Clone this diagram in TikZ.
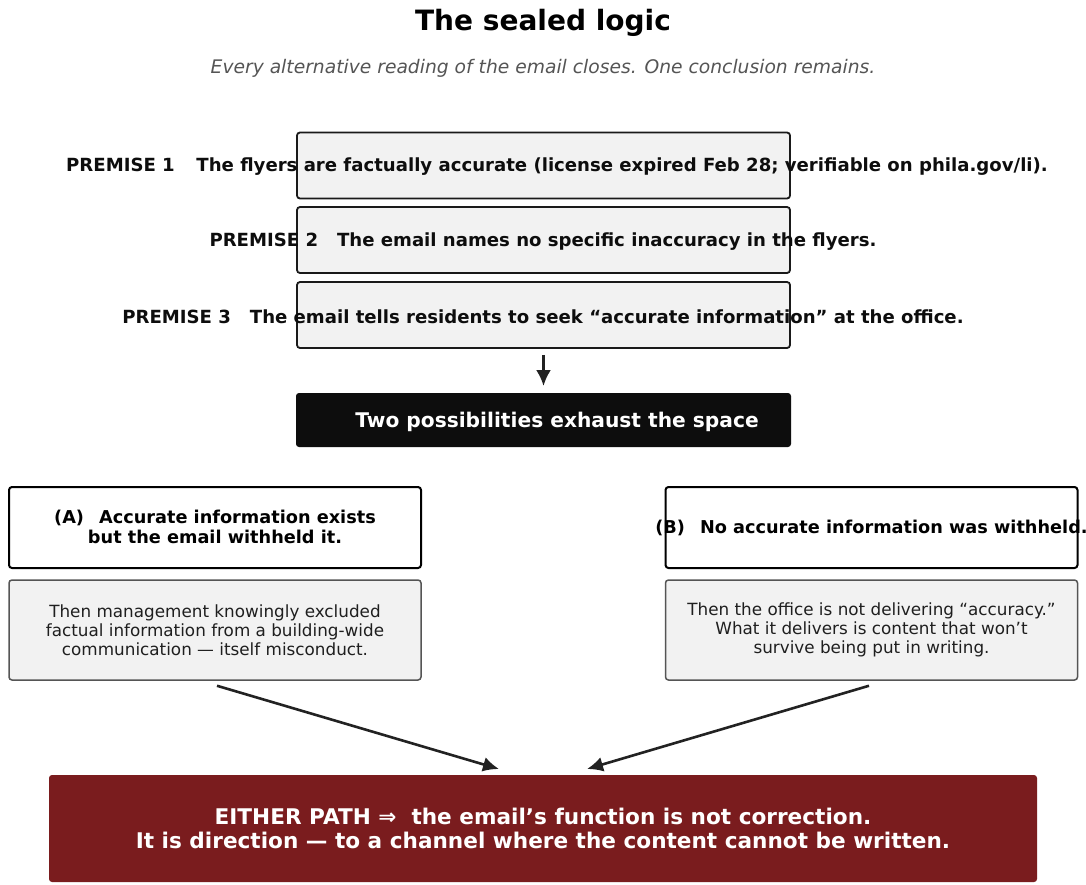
\documentclass[tikz,border=0pt]{standalone}
\usepackage{fontspec}
\setmainfont{DejaVu Sans}
\usetikzlibrary{arrows.meta}
\pgfdeclarelayer{background}
\pgfsetlayers{background,main}
\definecolor{boxfill}{HTML}{F2F2F2}
\definecolor{boxline}{HTML}{1A1A1A}
\definecolor{darkbox}{HTML}{0D0D0D}
\definecolor{redbox}{HTML}{7A1C1E}
\definecolor{subgray}{HTML}{555555}
\definecolor{subline}{HTML}{555555}
\definecolor{arrowc}{HTML}{222222}
\tikzset{
  premisebox/.style={draw=boxline, fill=boxfill, line width=1.8pt, rounded corners=3pt, minimum width=493pt, minimum height=66pt, inner sep=0pt},
  premisetext/.style={font=\bfseries\fontsize{18.1}{21}\selectfont, text=black!95, inner sep=0pt},
  darkstyle/.style={fill=darkbox, rounded corners=3pt, minimum width=495pt, minimum height=54pt, inner sep=0pt},
  casebox/.style={draw=black, fill=white, line width=2pt, rounded corners=3pt, minimum width=412pt, minimum height=81pt, inner sep=0pt},
  casetext/.style={font=\bfseries\fontsize{17.7}{20}\selectfont, align=center, inner sep=0pt},
  subbox/.style={draw=subline, fill=boxfill, line width=1.5pt, rounded corners=3pt, minimum width=412pt, minimum height=100pt, inner sep=0pt, align=center, text=black!88, font=\fontsize{16.8}{19}\selectfont},
  redstyle/.style={fill=redbox, rounded corners=3pt, minimum width=988pt, minimum height=107pt, inner sep=0pt, align=center, text=white, font=\bfseries\fontsize{21.6}{24.5}\selectfont},
  arr/.style={draw=arrowc, line width=2.6pt, -{Latex[length=16pt,width=15pt]}},
}
\begin{document}
\begin{tikzpicture}[x=1pt,y=-1pt]
\useasboundingbox (0,0) rectangle (1086,884);
\fill[white] (0,0) rectangle (1086,884);
\node[font=\bfseries\fontsize{28}{32}\selectfont, inner sep=0pt] (title) at (543,23) {The sealed logic};
\node[font=\itshape\fontsize{18.7}{22}\selectfont, text=subgray, inner sep=0pt] (sub) at (543,68) {Every alternative reading of the email closes. One conclusion remains.};

\node[premisebox] (p1) at (543.5,165.5) {};
\node[premisebox] (p2) at (543.5,240) {};
\node[premisebox] (p3) at (543.5,315) {};
\node[premisetext] (p1t) at (557,167) {PREMISE 1\hspace{0.85em} The flyers are factually accurate (license expired Feb 28; verifiable on phila.gov/li).};
\node[premisetext] (p2t) at (543,242) {PREMISE 2\hspace{0.7em} The email names no specific inaccuracy in the flyers.};
\node[premisetext] (p3t) at (543,317) {PREMISE 3\hspace{0.7em} The email tells residents to seek “accurate information” at the office.};

\node[darkstyle] (two) at (543.5,420) {};
\node[text=white, font=\bfseries\fontsize{20.2}{24}\selectfont, inner sep=0pt] (twot) at (557,421.5) {Two possibilities exhaust the space};

\node[casebox] (a) at (215,527.5) {};
\node[casetext] (at) at (215,527) {(A)\hspace{0.5em} Accurate information exists\\but the email withheld it.};
\node[casebox] (b) at (871.5,527.5) {};
\node[casetext] (bt) at (871.5,528) {(B)\hspace{0.5em} No accurate information was withheld.};

\node[subbox] (asub) at (215,630) {Then management knowingly excluded\\factual information from a building-wide\\communication — itself misconduct.};
\node[subbox] (bsub) at (871.5,630) {Then the office is not delivering “accuracy.”\\What it delivers is content that won’t\\survive being put in writing.};

\node[redstyle] (concl) at (543,828.5) {EITHER PATH ⇒\ \ the email’s function is not correction.\\It is direction — to a channel where the content cannot be written.};

\coordinate (ta) at (231,492);
\coordinate (tb) at (858,492);
\coordinate (tdown) at (543.5,386);
\coordinate (tl) at (499,769);
\coordinate (tr) at (587,769);
\begin{pgfonlayer}{background}
\draw[arr] (two.south -| 458,0) -- (ta);
\draw[arr] (two.south -| 628,0) -- (tb);
\end{pgfonlayer}
\draw[arr] (p3.south) ++(0,6) -- (tdown);
\draw[arr] (asub.south -| 217,0) ++(0,5) -- (tl);
\draw[arr] (bsub.south -| 869,0) ++(0,5) -- (tr);
\end{tikzpicture}
\end{document}
